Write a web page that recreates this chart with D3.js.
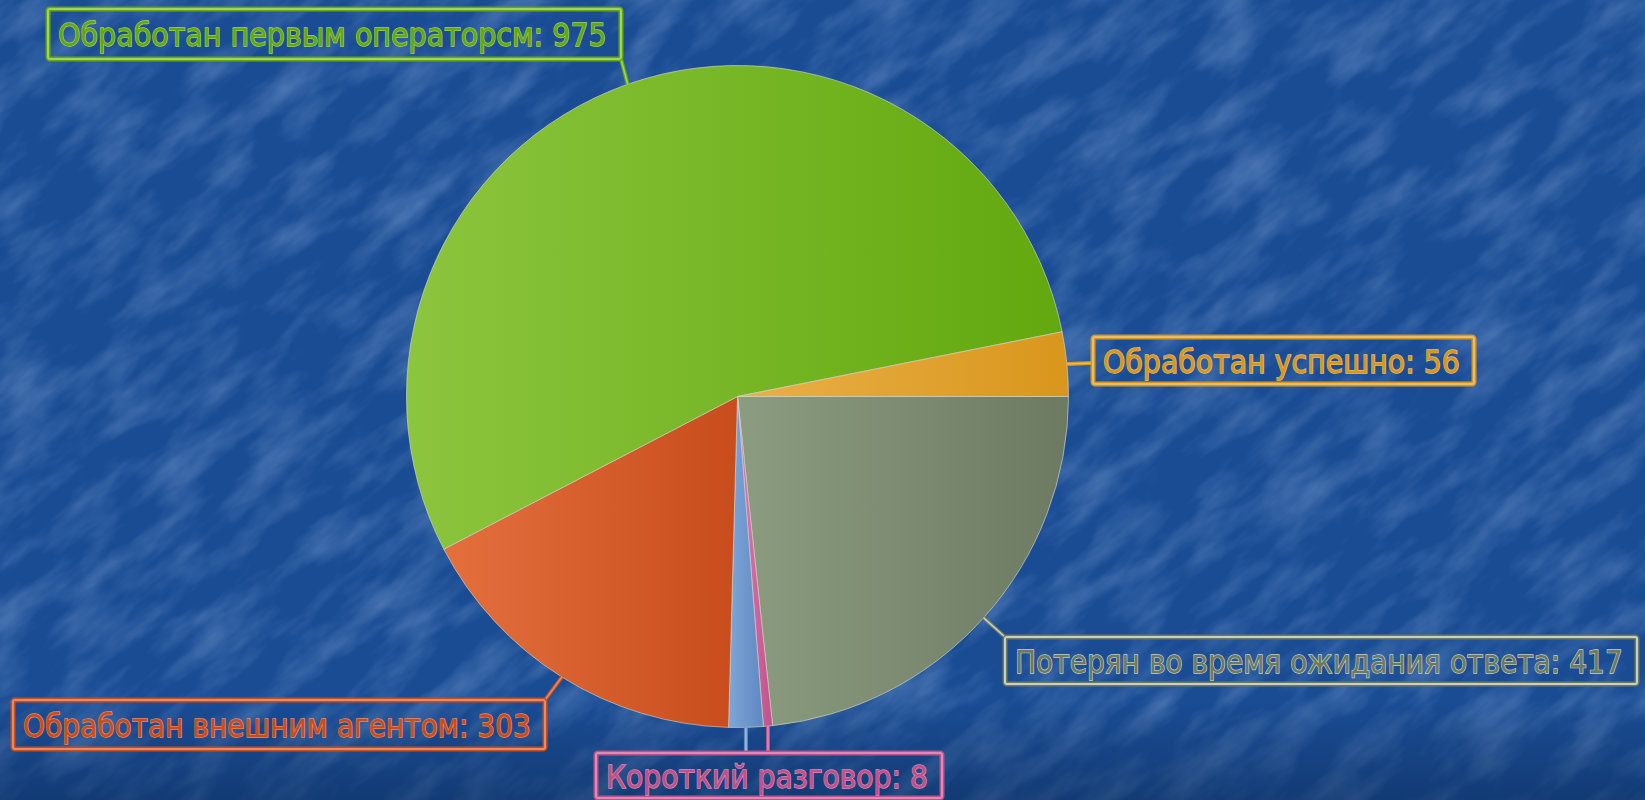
<!DOCTYPE html>
<html>
<head>
<meta charset="utf-8">
<script src="https://cdn.jsdelivr.net/npm/d3@7/dist/d3.min.js"></script>
<style>
  html, body { margin: 0; padding: 0; overflow: hidden; background: #1b4f98; }
</style>
</head>
<body>
<svg id="chart" width="1645" height="800"></svg>
<script>

// slice data, clockwise from 3 o'clock
var names = ['Потерян во время ожидания ответа', 'Короткий разговор', '', 'Обработан внешним агентом', 'Обработан первым операторсм', 'Обработан успешно'];
var values = [417, 8, 30, 303, 975, 56];

var lightColors = ['#8c9c80', '#e07cb0', '#7ea6d8', '#e4703e', '#8cc53e', '#eab048'];
var darkColors  = ['#6c7a62', '#c0508a', '#5f88c2', '#c84c1c', '#62a80e', '#d8961c'];
var textColors  = ['#c9d0c2', '#d98cb6', '#9cbce4', '#e88a66', '#a4d25e', '#e6bc6e'];


window.addEventListener('load', drawChart);

function drawChart() {

    var svg = d3.select('#chart');
    var width = +svg.attr('width');
    var height = +svg.attr('height');

    var cx = 737.5, cy = 396.5, radius = 331;

    var defs = svg.append('defs');

    // textured blue background, soft mottled streaks
    var turb = defs.append('filter').attr('id', 'paper')
        .attr('x', 0).attr('y', 0).attr('width', 1).attr('height', 1);
    turb.append('feTurbulence')
        .attr('type', 'fractalNoise')
        .attr('baseFrequency', '0.012 0.035')
        .attr('numOctaves', 4)
        .attr('seed', 3);
    turb.append('feColorMatrix')
        .attr('type', 'matrix')
        .attr('values', '0 0 0 0 0.42  0 0 0 0 0.6  0 0 0 0 0.88  1.5 0 0 0 -0.6');

    var shade = defs.append('linearGradient').attr('id', 'bottomShade')
        .attr('x1', 0).attr('y1', 0).attr('x2', 0).attr('y2', 1);
    shade.append('stop').attr('offset', '0%').attr('stop-color', '#0a2a55').attr('stop-opacity', 0);
    shade.append('stop').attr('offset', '100%').attr('stop-color', '#0a2a55').attr('stop-opacity', 0.5);

    svg.append('rect').attr('width', width).attr('height', height).attr('fill', '#1a4c94');
    svg.append('g')
        .attr('transform', 'rotate(-40 ' + width / 2 + ' ' + height / 2 + ')')
        .append('rect')
        .attr('x', -600).attr('y', -700).attr('width', width + 1200).attr('height', height + 1400)
        .attr('filter', 'url(#paper)')
        .attr('opacity', 0.4);
    svg.append('rect').attr('x', 0).attr('y', 700).attr('width', width).attr('height', 100)
        .attr('fill', 'url(#bottomShade)');


    // slice gradients: lighter on the left, darker on the right
    values.forEach(function (v, i) {
        var g = defs.append('linearGradient').attr('id', 'grad' + i)
            .attr('x1', 0).attr('y1', 0).attr('x2', 1).attr('y2', 0);
        g.append('stop').attr('offset', '0%').attr('stop-color', lightColors[i]);
        g.append('stop').attr('offset', '100%').attr('stop-color', darkColors[i]);
    });

    var pie = d3.pie().sort(null)
        .startAngle(Math.PI / 2)
        .endAngle(Math.PI / 2 + 2 * Math.PI);

    var arcs = pie(values);

    var arc = d3.arc().innerRadius(0).outerRadius(radius);

    var pieG = svg.append('g').attr('transform', 'translate(' + cx + ',' + cy + ')');

    pieG.selectAll('path')
        .data(arcs).enter()
        .append('path')
        .attr('d', arc)
        .attr('fill', (d, i) => 'url(#grad' + i + ')')
        .attr('stroke', '#d8dccf')
        .attr('stroke-opacity', 0.6)
        .attr('stroke-width', 1);


    // label boxes (layout only)
    var boxes = [
        {x: 1005, y: 637, w: 632, h: 47, end: [1005, 637]},
        {x: 596,  y: 753, w: 346, h: 45, end: null},
        null,
        {x: 13,   y: 700, w: 532, h: 49, end: [545, 700]},
        {x: 48,   y: 9,   w: 573, h: 50, end: [621, 59]},
        {x: 1093, y: 337, w: 381, h: 47, end: [1093, 363]}
    ];

    var leadG = svg.append('g');
    var labelG = svg.append('g');

    arcs.forEach(function (d, i) {
        var mid = (d.startAngle + d.endAngle) / 2;
        var sx = cx + radius * Math.sin(mid);
        var sy = cy - radius * Math.cos(mid);
        var b = boxes[i];
        var ex, ey;
        if (b && b.end) { ex = b.end[0]; ey = b.end[1]; }
        else { ex = sx; ey = 753; }

        leadG.append('line')
            .attr('x1', sx).attr('y1', sy).attr('x2', ex).attr('y2', ey)
            .attr('stroke', darkColors[i]).attr('stroke-width', 4);
        leadG.append('line')
            .attr('x1', sx).attr('y1', sy).attr('x2', ex).attr('y2', ey)
            .attr('stroke', textColors[i]).attr('stroke-width', 1.6);
    });

    arcs.forEach(function (d, i) {
        var b = boxes[i];
        if (!b || !names[i]) return;

        var g = labelG.append('g');
        g.append('rect')
            .attr('x', b.x).attr('y', b.y).attr('width', b.w).attr('height', b.h)
            .attr('rx', 2)
            .attr('fill', 'none')
            .attr('stroke', darkColors[i]).attr('stroke-width', 5);
        g.append('rect')
            .attr('x', b.x).attr('y', b.y).attr('width', b.w).attr('height', b.h)
            .attr('rx', 2)
            .attr('fill', 'none')
            .attr('stroke', textColors[i]).attr('stroke-width', 2);

        var t = g.append('text')
            .attr('font-family', 'DejaVu Sans, sans-serif')
            .attr('font-size', 32)
            .attr('fill', darkColors[i])
            .attr('stroke', textColors[i])
            .attr('stroke-width', 1.4)
            .attr('paint-order', 'stroke')
            .text(names[i] + ': ' + d.data);

        // squeeze horizontally so the text fills its box
        var natural = t.node().getComputedTextLength();
        var sx = (b.w - 24) / natural;
        t.attr('transform', 'translate(' + (b.x + 10) + ',' + (b.y + b.h / 2 + 12) + ') scale(' + sx + ',1)');
    });
}

</script>
</body>
</html>
